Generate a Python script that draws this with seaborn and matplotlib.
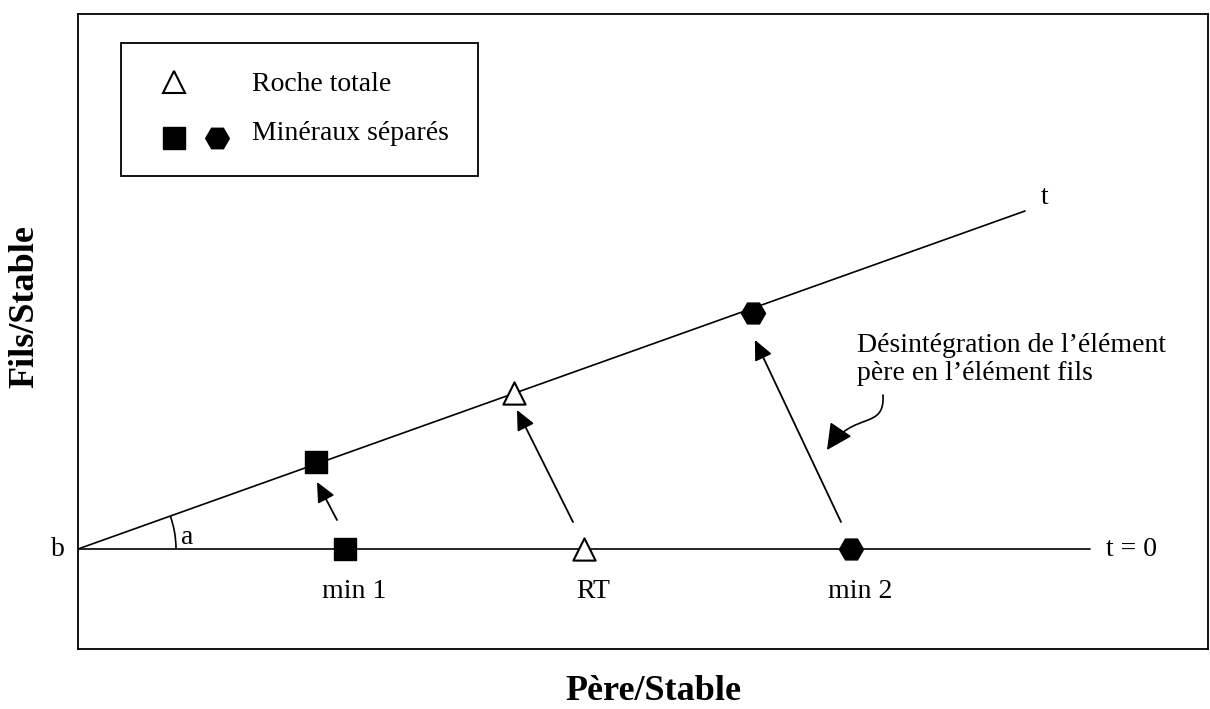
import matplotlib
matplotlib.use("Agg")
import matplotlib.pyplot as plt
import seaborn as sns
import numpy as np
from matplotlib.lines import Line2D
from matplotlib.patches import Arc, FancyArrowPatch
from matplotlib.path import Path
from matplotlib.legend_handler import HandlerTuple

# samples: position at t = 0 (no daughter produced) and at time t
sample_names = ["min 1", "RT", "min 2"]
sample_markers = ["s", "^", "H"]
pere_t0 = [26.7, 50.6, 77.3]
fils_t0 = [0.0, 0.0, 0.0]
pere_t = [23.8, 43.6, 67.5]
fils_t = [8.7, 15.6, 23.6]

# reference lines
isochron_x = [0.0, 94.7]
isochron_y = [0.0, 33.8]
initial_x = [0.0, 101.2]
initial_y = [0.0, 0.0]

legend_labels = ["Roche totale", "Minéraux séparés"]


class ShiftedTuple(HandlerTuple):
    """HandlerTuple that nudges its markers (dx right, dy down, in points)."""

    def __init__(self, dx=0.0, dy=0.0, **kw):
        super().__init__(**kw)
        self.dx = dx
        self.dy = dy

    def create_artists(self, legend, orig_handle, xdescent, ydescent, width,
                       height, fontsize, trans):
        return super().create_artists(legend, orig_handle, xdescent - self.dx,
                                      ydescent + 2 * self.dy, width, height,
                                      fontsize, trans)


sns.set_style("white")
plt.rcParams["font.family"] = ["Liberation Serif", "DejaVu Serif"]
plt.rcParams["text.color"] = "black"
plt.rcParams["axes.labelcolor"] = "black"

W, H = 1210, 709
fig = plt.figure(figsize=(W / 100, H / 100), dpi=100)
ax = fig.add_axes([78 / W, (H - 649) / H, (1208 - 78) / W, (649 - 14) / H])
ax.set_xlim(0, 113)
ax.set_ylim(-10, 53.5)
ax.set_xticks([])
ax.set_yticks([])
for sp in ax.spines.values():
    sp.set_visible(True)
    sp.set_color("black")
    sp.set_linewidth(1.3)

# isochron at t and initial horizontal line at t = 0
sns.lineplot(x=isochron_x, y=isochron_y, ax=ax, color="black", lw=1.2)
sns.lineplot(x=initial_x, y=initial_y, ax=ax, color="black", lw=1.2)

marker_style = {
    "s": dict(s=256, color="black", edgecolor="black", linewidth=1),
    "^": dict(s=256, color="white", edgecolor="black", linewidth=1.5),
    "H": dict(s=300, color="black", edgecolor="black", linewidth=1),
}
for i, m in enumerate(sample_markers):
    sns.scatterplot(x=[pere_t0[i], pere_t[i]], y=[fils_t0[i], fils_t[i]],
                    marker=m, ax=ax, zorder=5, **marker_style[m])

# evolution arrows
arrow_kw = dict(arrowstyle="-|>,head_length=0.6,head_width=0.28",
                color="black", lw=1.3, mutation_scale=20, shrinkA=0, shrinkB=0)
ax.annotate("", xy=(23.9, 6.7), xytext=(25.9, 2.9), arrowprops=arrow_kw)
ax.annotate("", xy=(43.9, 13.9), xytext=(49.5, 2.7), arrowprops=arrow_kw)
ax.annotate("", xy=(67.7, 20.9), xytext=(76.3, 2.7), arrowprops=arrow_kw)

# sample labels
for name, x in zip(sample_names, pere_t0):
    ax.text(x + 0.9, -4.3, name, ha="center", va="center", fontsize=20)

# angle a
slope_deg = np.degrees(np.arctan2(isochron_y[1], isochron_x[1]))
ax.add_patch(Arc((0, 0), 19.6, 19.6, theta1=0, theta2=slope_deg, color="black", lw=1.2))
ax.text(10.9, 1.2, "a", ha="center", va="center", fontsize=20)
ax.text(-2.0, 0, "b", ha="center", va="center", fontsize=20)
ax.text(96.7, 35.2, "t", ha="center", va="center", fontsize=20)
ax.text(102.8, 0, "t = 0", ha="left", va="center", fontsize=20)

# annotation with curved arrow
ax.text(77.9, 19.7, "Désintégration de l’élément", ha="left", va="baseline", fontsize=20)
ax.text(77.9, 16.9, "père en l’élément fils", ha="left", va="baseline", fontsize=20)
curve = Path([(80.5, 15.4), (80.7, 11.8), (77.6, 13.9), (74.9, 9.9)],
             [Path.MOVETO, Path.CURVE4, Path.CURVE4, Path.CURVE4])
ax.add_patch(FancyArrowPatch(path=curve, arrowstyle="-|>,head_length=0.8,head_width=0.4",
                             color="black", lw=1.2, mutation_scale=20))

# legend
tri = Line2D([], [], marker="^", ls="none", markersize=16, markerfacecolor="white",
             markeredgecolor="black", markeredgewidth=1.5)
blank = Line2D([], [], marker="None", ls="none")
sq = Line2D([], [], marker="s", ls="none", markersize=16, color="black")
hx = Line2D([], [], marker="H", ls="none", markersize=17, color="black")
row_roche = (tri, blank)
row_min = (sq, hx)
leg = ax.legend([row_roche, row_min], legend_labels,
                handler_map={row_roche: ShiftedTuple(dx=1.4, dy=0.0, ndivide=None, pad=0.0),
                             row_min: ShiftedTuple(dx=1.4, dy=5.2, ndivide=None, pad=0.0)},
                loc="upper left", bbox_to_anchor=(121 / W, 1 - 42.7 / H),
                bbox_transform=fig.transFigure, borderaxespad=0, fontsize=20,
                handlelength=3.1, handletextpad=0.565, labelspacing=0.85,
                borderpad=1.05, fancybox=False, framealpha=1, edgecolor="black")
leg.get_frame().set_linewidth(1.3)

fig.text(25 / W, 1 - 307 / H, "Fils/Stable", rotation=90, ha="center", va="center",
         fontsize=26, fontweight="bold")
fig.text(653 / W, 1 - 691 / H, "Père/Stable", ha="center", va="center",
         fontsize=26, fontweight="bold")

fig.savefig("out.png", dpi=100)
